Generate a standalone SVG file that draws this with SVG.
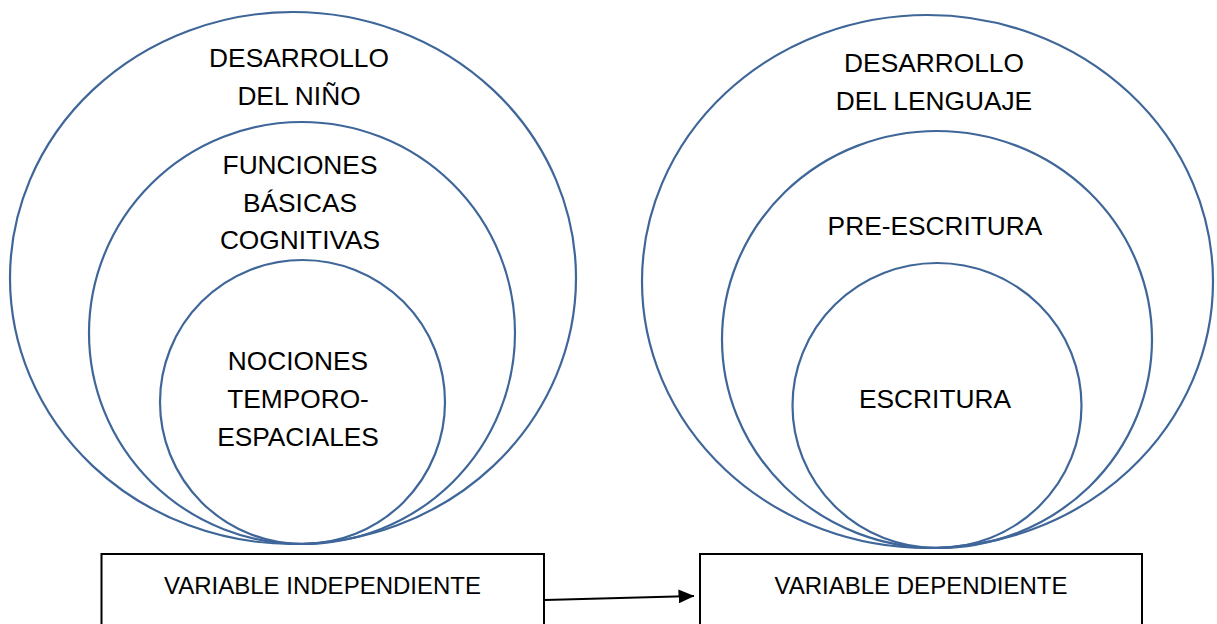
<svg xmlns="http://www.w3.org/2000/svg" width="1217" height="624" viewBox="0 0 1217 624">
  <style>
    .ring { fill: none; stroke: #3F6699; stroke-width: 2.2; }
    .lbl { font-family: "Liberation Sans", Arial, sans-serif; font-size: 26.3px; fill: #000; text-anchor: middle; }
    .box { fill: #fff; stroke: #000; stroke-width: 2; }
    .boxlbl { font-family: "Liberation Sans", Arial, sans-serif; font-size: 24px; fill: #000; text-anchor: middle; }
    .conn { fill: none; stroke: #000; stroke-width: 2; }
  </style>
  <defs>
    <marker id="arrow" markerWidth="16" markerHeight="14" refX="15.5" refY="7" orient="auto" markerUnits="userSpaceOnUse" viewBox="0 0 16 14">
      <path d="M0,0 L16,7 L0,14 Z" fill="#000"/>
    </marker>
  </defs>
  <rect width="1217" height="624" fill="#fff"/>

  <g id="desarrollo-nino">
    <ellipse class="ring" cx="293" cy="278" rx="283" ry="266"/>
    <text class="lbl" x="299" y="67">DESARROLLO</text>
    <text class="lbl" x="299" y="105">DEL NIÑO</text>
  </g>
  <g id="funciones-basicas">
    <ellipse class="ring" cx="302" cy="333" rx="213" ry="211"/>
    <text class="lbl" x="300" y="174">FUNCIONES</text>
    <text class="lbl" x="300" y="212">BÁSICAS</text>
    <text class="lbl" x="300" y="249">COGNITIVAS</text>
  </g>
  <g id="nociones">
    <ellipse class="ring" cx="302.5" cy="402" rx="142.5" ry="142"/>
    <text class="lbl" x="298" y="370">NOCIONES</text>
    <text class="lbl" x="298" y="408">TEMPORO-</text>
    <text class="lbl" x="298" y="446">ESPACIALES</text>
  </g>

  <g id="desarrollo-lenguaje">
    <ellipse class="ring" cx="927.5" cy="281.5" rx="285.5" ry="266.5"/>
    <text class="lbl" x="934" y="72">DESARROLLO</text>
    <text class="lbl" x="934" y="110">DEL LENGUAJE</text>
  </g>
  <g id="pre-escritura">
    <ellipse class="ring" cx="937" cy="339.5" rx="215" ry="208.5"/>
    <text class="lbl" x="935" y="235">PRE-ESCRITURA</text>
  </g>
  <g id="escritura">
    <ellipse class="ring" cx="937" cy="405.5" rx="144.5" ry="142.5"/>
    <text class="lbl" x="935" y="408">ESCRITURA</text>
  </g>

  <g id="variable-independiente">
    <rect class="box" x="101.5" y="554" width="442.5" height="80"/>
    <text class="boxlbl" x="322.5" y="594">VARIABLE INDEPENDIENTE</text>
  </g>
  <g id="variable-dependiente">
    <rect class="box" x="700" y="554" width="442" height="80"/>
    <text class="boxlbl" x="921" y="594">VARIABLE DEPENDIENTE</text>
  </g>

  <g id="connectors">
    <line class="conn" x1="545" y1="600" x2="694" y2="596" marker-end="url(#arrow)"/>
  </g>
</svg>
